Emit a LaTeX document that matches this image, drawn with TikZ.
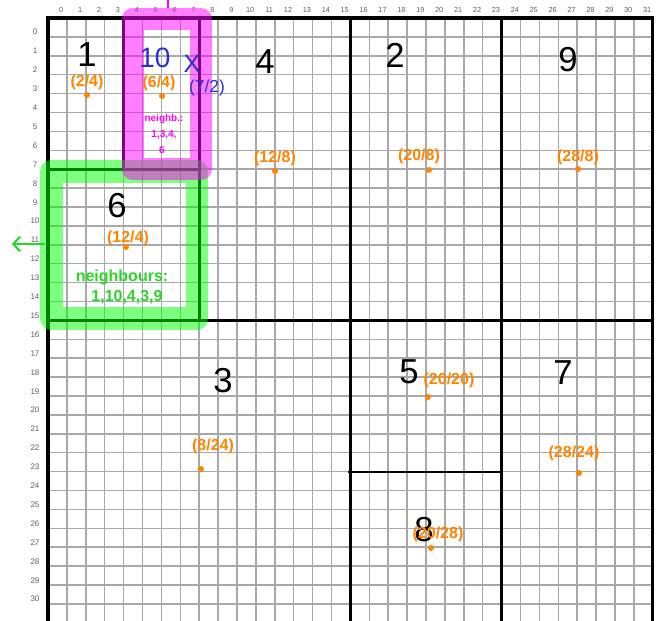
\documentclass[tikz,border=0pt]{standalone}
\usepackage{fontspec}
\setmainfont{Liberation Sans}
\usetikzlibrary{arrows.meta}
\definecolor{gridgray}{RGB}{168,168,168}
\definecolor{labgray}{RGB}{95,95,95}
\definecolor{orng}{RGB}{255,132,0}
\definecolor{blu}{RGB}{45,45,215}
\definecolor{mag}{RGB}{255,0,255}
\definecolor{grn}{RGB}{40,215,40}
\definecolor{bandgrn}{RGB}{0,255,0}
\begin{document}
\begin{tikzpicture}[x=0.75pt,y=-0.75pt,
  gridl/.style={draw=gridgray,line width=1.1pt},
  region/.style={draw=black,line width=2.4pt},
  thinregion/.style={draw=black,line width=1.6pt},
  collab/.style={text=labgray,font=\fontsize{5.5}{6}\selectfont,inner sep=0pt},
  rowlab/.style={text=labgray,font=\fontsize{6}{7}\selectfont,inner sep=0pt},
  bignum/.style={font=\fontsize{26}{28}\selectfont,inner sep=0pt},
  bluetext/.style={text=blu,inner sep=0pt},
  coordlab/.style={text=orng,font=\bfseries\fontsize{12}{13}\selectfont,inner sep=0pt},
  dot/.style={circle,fill=orng,inner sep=0pt,minimum size=4.5pt},
  magtext/.style={text=mag,font=\bfseries\fontsize{7.5}{8}\selectfont,inner sep=0pt},
  grntext/.style={text=grn,font=\bfseries\fontsize{12}{13}\selectfont,inner sep=0pt},
  magband/.style={draw=mag,draw opacity=0.5,line width=16.5pt,line join=round},
  grnband/.style={draw=bandgrn,draw opacity=0.5,line width=17pt,line join=round},
  magline/.style={draw=mag,line width=1.6pt},
  grnarrow/.style={draw=grn,line width=1.6pt,-{Straight Barb[length=5pt,width=11pt]}}
]
\useasboundingbox (0,0) rectangle (658,621);
\fill[white] (0,0) rectangle (658,621);

% grid
\foreach \i in {0,...,32} { \draw[gridl] ({48+18.9*\i},18) -- ({48+18.9*\i},621); }
\foreach \j in {0,...,31} { \draw[gridl] (48,{18+18.9*\j}) -- (652.8,{18+18.9*\j}); }

% axis labels
\foreach \i in {0,...,31} { \node[collab] (c\i) at ({48+18.9*(\i+0.7)},10) {\i}; }
\foreach \j in {0,...,30} { \node[rowlab] (r\j) at (35,{18+18.9*(\j+0.75)}) {\j}; }

% regions
\draw[region] (48,18) rectangle (123.6,169.2);      % 1
\draw[region] (123.6,18) rectangle (199.2,169.2);   % 10
\draw[region] (48,169.2) rectangle (199.2,320.4);   % 6
\draw[region] (199.2,18) rectangle (350.4,320.4);   % 4
\draw[region] (350.4,18) rectangle (501.6,320.4);   % 2
\draw[region] (501.6,18) rectangle (652.8,320.4);   % 9
\draw[region] (48,320.4) rectangle (350.4,640);     % 3
\draw[region] (350.4,320.4) rectangle (501.6,640);  % 5 + 8
\draw[region] (501.6,320.4) rectangle (652.8,640);  % 7
\draw[thinregion] (348,471.6) -- (501.6,471.6);     % 5 / 8

% highlight bands
\draw[grnband] (51.5,171.5) rectangle (197,318.5);
\draw[magband] (132.5,19) rectangle (201,169);
\coordinate (magtop) at (168,8);
\coordinate (magout) at (168,-4);
\draw[magline] (magtop) -- (magout);
\coordinate (grnstart) at (45,244);
\coordinate (grnend) at (12,244);
\draw[grnarrow] (grnstart) -- (grnend);

% region numbers
\node[bignum] (n1) at (87,55) {1};
\node[bignum] (n4) at (265,62) {4};
\node[bignum] (n2) at (395,55) {2};
\node[bignum] (n9) at (568,60) {9};
\node[bignum] (n6) at (117,206) {6};
\node[bignum] (n3) at (223,381) {3};
\node[bignum] (n5) at (409,372) {5};
\node[bignum] (n7) at (563,373) {7};
\node[bignum] (n8) at (424,530) {8};
\node[bluetext,font=\fontsize{21}{22}\selectfont] (n10) at (155,58) {10};
\node[bluetext,font=\fontsize{19}{20}\selectfont] (xmark) at (192,64) {X};
\node[bluetext,font=\fontsize{13}{14}\selectfont] (xlab) at (207,88) {(7/2)};

% centres
\node[coordlab] (l1) at (87,82) {(2/4)};
\node[dot] (d1) at (87,95) {};
\node[coordlab] (l10) at (159,83) {(6/4)};
\node[dot] (d10) at (162,96) {};
\node[coordlab] (l4) at (275,158) {(12/8)};
\node[dot] (d4) at (275,171) {};
\node[coordlab] (l2) at (419,156) {(20/8)};
\node[dot] (d2) at (429,170) {};
\node[coordlab] (l9) at (578,157) {(28/8)};
\node[dot] (d9) at (578,169) {};
\node[coordlab] (l6) at (128,238) {(12/4)};
\node[dot] (d6) at (126,247) {};
\node[coordlab] (l3) at (213,446) {(8/24)};
\node[dot] (d3) at (201,469) {};
\node[coordlab] (l5) at (449,380) {(20/20)};
\node[dot] (d5) at (428,397) {};
\node[coordlab] (l7) at (574,453) {(28/24)};
\node[dot] (d7) at (579,473) {};
\node[coordlab] (l8) at (438,534) {(20/28)};
\node[dot] (d8) at (431,548) {};

% neighbour notes
\node[magtext] (m1) at (164,119) {neighb.:};
\node[magtext] (m2) at (164,135) {1,3,4,};
\node[magtext] (m3) at (162,150) {6};
\node[grntext] (g1) at (122,277) {neighbours:};
\node[grntext] (g2) at (127,297) {1,10,4,3,9};
\end{tikzpicture}
\end{document}
